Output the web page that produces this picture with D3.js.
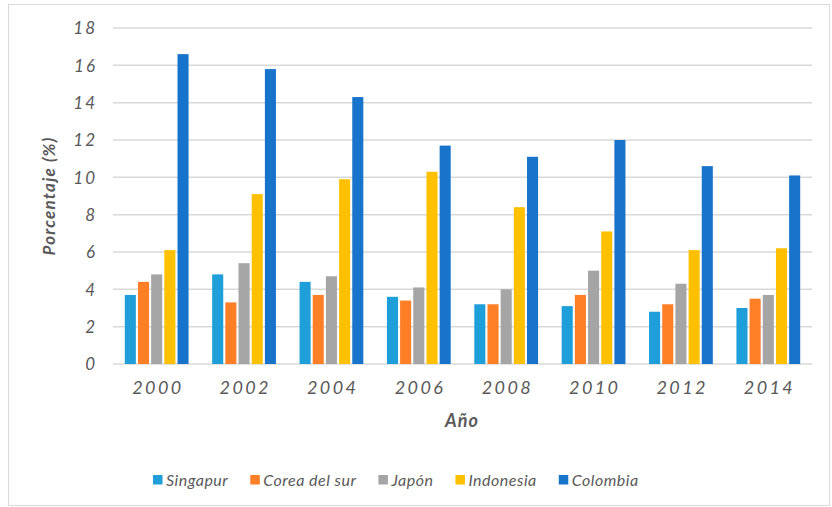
<!DOCTYPE html>
<html><head><meta charset="utf-8">
<script src="https://cdn.jsdelivr.net/npm/d3@7"></script>
<style>
body{margin:0;background:#fff;}
text{font-family:Lato,"DejaVu Sans",sans-serif;font-style:italic;fill:#595959;}
</style></head>
<body><svg id="c" width="832" height="507"></svg>
<script>
const years = ["2000","2002","2004","2006","2008","2010","2012","2014"];
const seriesNames = ["Singapur","Corea del sur","Japón","Indonesia","Colombia"];
const singapur  = [3.7,4.8,4.4,3.6,3.2,3.1,2.8,3.0];
const corea     = [4.4,3.3,3.7,3.4,3.2,3.7,3.2,3.5];
const japon     = [4.8,5.4,4.7,4.1,4.0,5.0,4.3,3.7];
const indonesia = [6.1,9.1,9.9,10.3,8.4,7.1,6.1,6.2];
const colombia  = [16.6,15.8,14.3,11.7,11.1,12.0,10.6,10.1];
const yTicks = [0,2,4,6,8,10,12,14,16,18];
const colors = ["#1f9fd9","#ff7f27","#a5a5a5","#ffc000","#1874cb"];

const seriesValues = [singapur,corea,japon,indonesia,colombia];
const svg = d3.select("#c");
svg.append("rect").attr("x",8.5).attr("y",4.5).attr("width",821).attr("height",501)
  .attr("fill","#fff").attr("stroke","#d9d9d9").attr("stroke-width",1);

const L=113,R=812,T=28,B=364;
const x0 = d3.scaleBand().domain(years).range([L,R]).paddingInner(0.27).paddingOuter(0.135);
const x1 = d3.scaleBand().domain(seriesNames).range([0,x0.bandwidth()]).paddingInner(0.16);
const y = d3.scaleLinear().domain([0,18]).range([B,T]);

// gridlines
svg.append("g").selectAll("line").data(yTicks).join("line")
  .attr("x1",L).attr("x2",R).attr("y1",d=>y(d)).attr("y2",d=>y(d))
  .attr("stroke","#d9d9d9").attr("stroke-width",1.5);

// y axis labels
const yAxis = d3.axisLeft(y).tickValues(yTicks).tickSize(0).tickPadding(0);
const gy = svg.append("g").attr("transform","translate(97,0)").call(yAxis);
gy.select(".domain").remove();
gy.selectAll("text").attr("font-size",17).style("letter-spacing","2px").attr("dy","0.35em");

// bars
const groups = svg.append("g").selectAll("g").data(years).join("g")
  .attr("transform",d=>`translate(${x0(d)},0)`);
groups.selectAll("rect").data((d,i)=>seriesNames.map((s,j)=>({s,j,v:seriesValues[j][i]})))
  .join("rect")
  .attr("x",d=>x1(d.s)).attr("width",x1.bandwidth())
  .attr("y",d=>y(d.v)).attr("height",d=>y(0)-y(d.v))
  .attr("fill",d=>colors[d.j]);

// x axis labels
const xAxis = d3.axisBottom(x0).tickSize(0).tickPadding(0);
const gx = svg.append("g").attr("transform","translate(1.2,388)").call(xAxis);
gx.select(".domain").remove();
gx.selectAll("text").attr("font-size",18).style("letter-spacing","2.4px").attr("dy","0.35em").attr("y",0);

// axis titles
svg.append("text").attr("transform","translate(49,196) rotate(-90)")
  .attr("text-anchor","middle").attr("dy","0.35em").attr("font-size",17).attr("font-weight","bold")
  .style("letter-spacing","1.2px").text("Porcentaje (%)");
svg.append("text").attr("x",462).attr("y",421).attr("text-anchor","middle").attr("dy","0.35em")
  .attr("font-size",18).attr("font-weight","bold").style("letter-spacing","1px").text("Año");

// legend
let lx = 153;
const lg = svg.append("g");
seriesNames.forEach((s,j)=>{
  lg.append("rect").attr("x",lx).attr("y",475).attr("width",9.5).attr("height",9.5).attr("fill",colors[j]);
  const t = lg.append("text").attr("x",lx+13).attr("y",480).attr("dy","0.35em")
    .attr("font-size",16).style("letter-spacing","0.5px").text(s);
  lx += 13 + t.node().getComputedTextLength() + 22;
});
</script></body></html>
